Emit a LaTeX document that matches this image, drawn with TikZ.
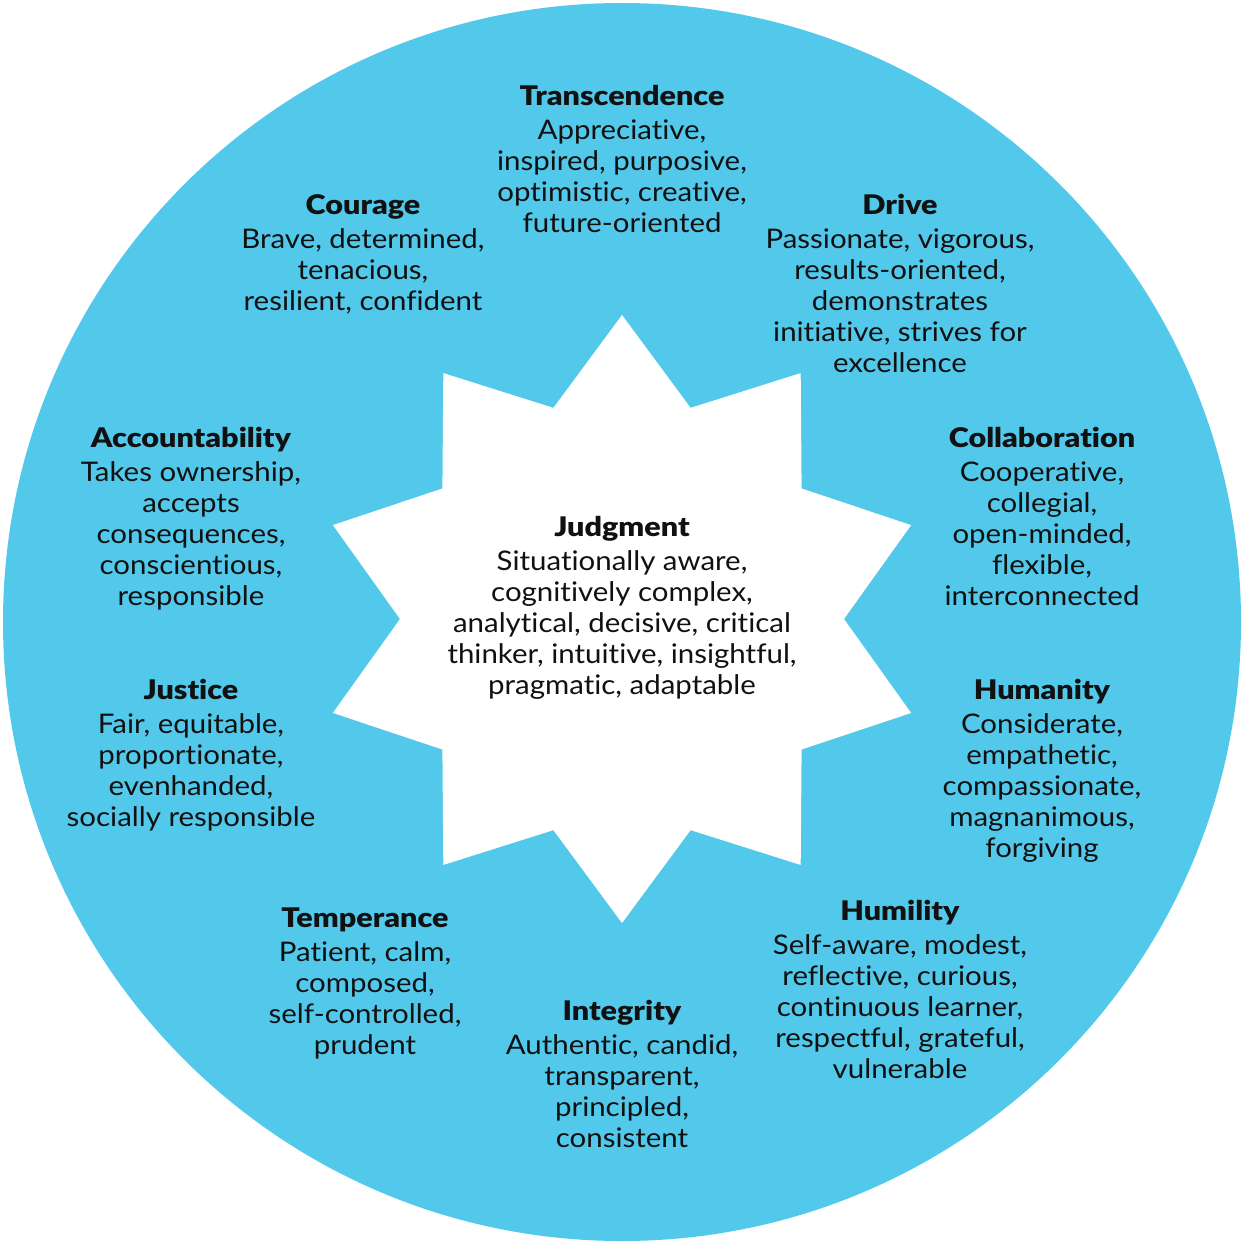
\documentclass[tikz,border=0pt]{standalone}
\usepackage{fontspec}
\setmainfont{Lato}[FakeStretch=1.09,Ligatures=NoCommon]
\newfontfamily\ttlfont{Lato Black}[FakeStretch=1.13,Ligatures=NoCommon]
\usetikzlibrary{calc}
\definecolor{disc}{HTML}{52C8EB}
\definecolor{ink}{HTML}{111111}
\newcommand{\ttl}[1]{{\ttlfont #1}}
\begin{document}
\begin{tikzpicture}[x=1pt,y=-1pt,
  blk/.style={align=center,anchor=north,inner sep=0pt,text=ink,
    font=\fontsize{27}{31}\selectfont}]
\useasboundingbox (0,0) rectangle (1244,1244);
\fill[disc] (622,622) circle[radius=619];
\fill[white] ($(622,619)+(90:304)$)
  \foreach \a in {0,36,...,324}{ -- ($(622,619)+(90+\a:304)$) -- ($(622,619)+(108+\a:222)$) } -- cycle;
\node[blk] (tr) at (622,85) {\ttl{Transcendence}\\[3pt]Appreciative,\\inspired, purposive,\\optimistic, creative,\\future-oriented};
\node[blk] (co) at (363,194) {\ttl{Courage}\\[3pt]Brave, determined,\\tenacious,\\resilient, confident};
\node[blk] (dr) at (900,194) {\ttl{Drive}\\[3pt]Passionate, vigorous,\\results-oriented,\\demonstrates\\initiative, strives for\\excellence};
\node[blk] (ac) at (191,427) {\ttl{Accountability}\\[3pt]Takes ownership,\\accepts\\consequences,\\conscientious,\\responsible};
\node[blk] (cl) at (1042,427) {\ttl{Collaboration}\\[3pt]Cooperative,\\collegial,\\open-minded,\\flexible,\\interconnected};
\node[blk] (ju) at (191,679) {\ttl{Justice}\\[3pt]Fair, equitable,\\proportionate,\\evenhanded,\\socially responsible};
\node[blk] (hu) at (1042,679) {\ttl{Humanity}\\[3pt]Considerate,\\empathetic,\\compassionate,\\magnanimous,\\forgiving};
\node[blk] (te) at (365,908) {\ttl{Temperance}\\[3pt]Patient, calm,\\composed,\\self-controlled,\\prudent};
\node[blk] (hl) at (900,900) {\ttl{Humility}\\[3pt]Self-aware, modest,\\reflective, curious,\\continuous learner,\\respectful, grateful,\\vulnerable};
\node[blk] (in) at (622,1000) {\ttl{Integrity}\\[3pt]Authentic, candid,\\transparent,\\principled,\\consistent};
\node[blk] (jg) at (622,516) {\ttl{Judgment}\\[3pt]Situationally aware,\\cognitively complex,\\analytical, decisive, critical\\thinker, intuitive, insightful,\\pragmatic, adaptable};
\end{tikzpicture}
\end{document}
